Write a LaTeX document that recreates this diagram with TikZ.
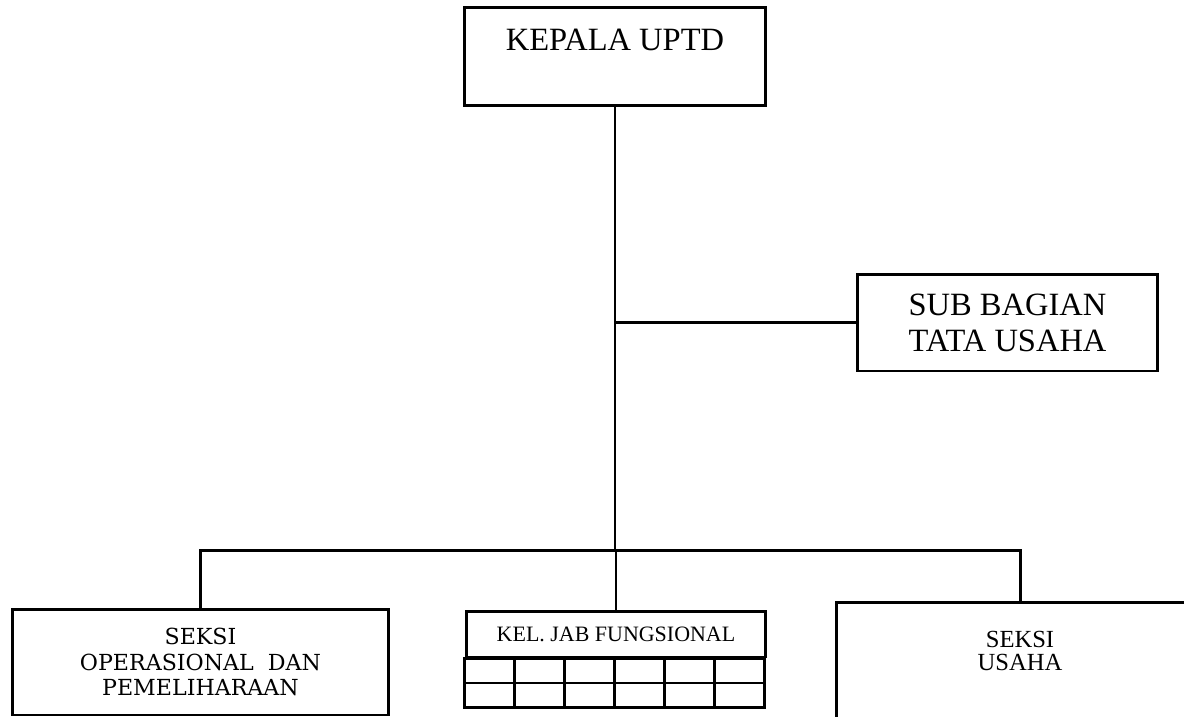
\documentclass[tikz,border=0pt]{standalone}
\usepackage{fontspec}
\setmainfont{Liberation Serif}
\newfontfamily\schfont{DejaVu Serif}
\tikzset{
    unitbox/.style={draw, line width=1.7pt, align=center, inner sep=0pt},
    bigtext/.style={font=\fontsize{18.5}{20.5}\selectfont},
    link/.style={line width=1.7pt},
    cell/.style={line width=1.4pt},
}

\begin{document}
\begin{tikzpicture}[x=0.02cm, y=-0.02cm]
    \useasboundingbox (0,0) rectangle (1184,717);
    \clip (0,0) rectangle (1184,717);
    % boxes
    \node (kepala) [unitbox, bigtext, minimum width=6.04cm, minimum height=1.98cm, text height=0.44cm, text depth=0.70cm] at (615,56.5) {KEPALA UPTD};
    \node (tatausaha) [unitbox, bigtext, minimum width=6.02cm, minimum height=1.94cm] at (1007.5,322.5) {SUB BAGIAN\\TATA USAHA};
    \node (operasi) [unitbox, font=\schfont\fontsize{12.6}{14.5}\selectfont, minimum width=7.54cm, minimum height=2.12cm] at (200.5,662) {SEKSI\\OPERASIONAL\ \ DAN\\PEMELIHARAAN};
    \node (jabatan) [unitbox, font=\fontsize{12.5}{15}\selectfont, minimum width=6cm, minimum height=0.92cm] at (616,634) {KEL. JAB FUNGSIONAL};
    \foreach \col in {0,...,5}
        \foreach \row in {0,1}
            \draw[cell] (jabatan.south west) ++(\col*50,\row*24.5) rectangle ++(50,24.5);
    \node (usaha) [align=center, font=\fontsize{14}{13}\selectfont, minimum width=7.32cm, minimum height=1.92cm] at (1020,651) {SEKSI\\USAHA};
    \draw[link] (usaha.south west) ++(0,60) |- (usaha.north east) -- ++(0,100);
    % lines
    \coordinate (hub) at (616,550);
    \draw[link] (kepala.south) -- (kepala.south |- hub);
    \draw[link] (tatausaha.west) -- (tatausaha.west -| kepala.south);
    \draw[link] (operasi.north) |- (hub) -| (usaha.north);
    \draw[link] (hub) -- (jabatan.north);
\end{tikzpicture}
\end{document}
